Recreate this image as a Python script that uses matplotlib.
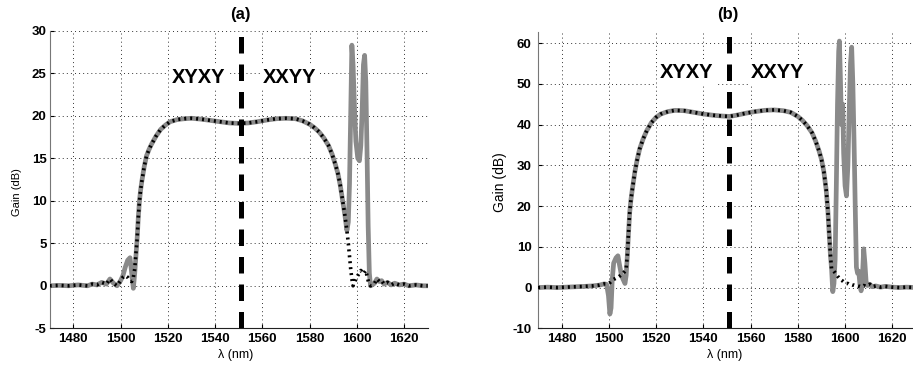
import matplotlib
matplotlib.use("Agg")
import matplotlib.pyplot as plt

plt.rcParams['font.family'] = ['Liberation Sans', 'DejaVu Sans']
plt.rcParams['axes.unicode_minus'] = False

# ---------------- data: panel (a) ----------------
lam_a = [1470, 1474, 1478, 1482, 1486, 1488, 1490, 1492, 1494, 1495.5, 1497, 1498.5,
         1500, 1501, 1502, 1503, 1504, 1504.7, 1505.4, 1506, 1506.5, 1507, 1507.5, 1508,
         1508.5, 1509, 1510, 1511, 1512, 1513, 1515, 1517, 1519, 1521, 1524, 1527, 1530,
         1534, 1538, 1542, 1546, 1550, 1554, 1558, 1562, 1566, 1570, 1574, 1577, 1580,
         1582, 1584, 1586, 1588, 1589.5, 1591, 1592, 1593, 1594, 1595, 1595.8, 1596.4,
         1596.9, 1597.4, 1597.9, 1598.4, 1599, 1599.6, 1600.4, 1601.1, 1601.7, 1602.3,
         1602.8, 1603.3, 1603.8, 1604.3, 1604.8, 1605.3, 1605.8, 1606.5, 1607.5, 1608.5,
         1609.5, 1610.5, 1611.5, 1613, 1614.5, 1616, 1618, 1620, 1622, 1625, 1628, 1630]
gain_a_gray = [0.0, 0.05, 0.0, 0.1, 0.0, 0.2, 0.1, 0.4, 0.2, 0.8, 0.3, 0.0,
               0.6, 1.2, 2.2, 3.0, 3.3, 1.5, -0.3, 1.5, 3.5, 5.5, 8.0, 10.0,
               11.3, 12.3, 14.0, 15.3, 16.0, 16.6, 17.6, 18.4, 18.9, 19.3, 19.55, 19.65, 19.7,
               19.6, 19.45, 19.3, 19.15, 19.1, 19.15, 19.3, 19.5, 19.65, 19.7, 19.65, 19.4, 19.0,
               18.6, 18.1, 17.4, 16.5, 15.5, 14.2, 13.2, 11.8, 10.0, 8.2, 6.5, 7.5,
               12.0, 20.0, 28.3, 26.0, 21.0, 17.0, 15.0, 14.7, 16.5, 21.0,
               26.0, 27.1, 24.0, 16.0, 7.0, 1.5, 0.0, 0.1, 0.3, 0.8,
               0.5, 0.6, 0.2, 0.4, 0.1, 0.3, 0.1, 0.2, 0.0, 0.1, 0.0, 0.0]
gain_a_black = [0.0, 0.05, 0.0, 0.1, 0.0, 0.2, 0.1, 0.4, 0.2, 0.8, 0.3, 0.0,
                0.6, 1.0, 1.2, 1.0, 0.6, 0.5, 1.0, 2.0, 3.8, 5.5, 8.0, 10.0,
                11.3, 12.3, 14.0, 15.3, 16.0, 16.6, 17.6, 18.4, 18.9, 19.3, 19.55, 19.65, 19.7,
                19.6, 19.45, 19.3, 19.15, 19.1, 19.15, 19.3, 19.5, 19.65, 19.7, 19.65, 19.4, 19.0,
                18.6, 18.1, 17.4, 16.5, 15.5, 14.2, 13.2, 11.8, 10.0, 8.2, 6.5, 5.0,
                3.5, 2.0, 0.8, 0.0, 0.3, 0.8, 1.2, 1.5, 1.8, 1.6,
                1.4, 1.6, 1.8, 1.2, 0.6, 0.2, 0.0, 0.1, 0.3, 0.8,
                0.5, 0.6, 0.2, 0.4, 0.1, 0.3, 0.1, 0.2, 0.0, 0.1, 0.0, 0.0]

# ---------------- data: panel (b) ----------------
lam_b = [1470, 1474, 1478, 1482, 1486, 1490, 1493, 1496, 1498, 1499, 1499.8, 1500.4,
         1500.9, 1501.4, 1502, 1503, 1503.8, 1504.5, 1505.3, 1506, 1506.8, 1507.3, 1507.8,
         1508.3, 1508.8, 1509.3, 1510, 1511, 1512, 1513, 1514.5, 1516, 1518, 1520, 1522,
         1525, 1528, 1532, 1536, 1540, 1544, 1548, 1551, 1554, 1558, 1562, 1566, 1570,
         1574, 1577, 1580, 1582, 1584, 1586, 1587.5, 1589, 1590, 1591, 1592, 1592.7,
         1593.3, 1593.8, 1594.3, 1594.8, 1595.3, 1595.8, 1596.3, 1596.8, 1597.3, 1597.6,
         1598, 1598.5, 1599, 1599.4, 1600, 1600.6, 1601.2, 1601.7, 1602.3, 1602.8, 1603.3,
         1603.8, 1604.3, 1604.8, 1605.3, 1605.8, 1606.3, 1606.8, 1607.3, 1607.9, 1608.4,
         1608.9, 1609.5, 1610.5, 1611.5, 1613, 1615, 1617, 1620, 1623, 1626, 1630]
gain_b_gray = [0.0, 0.1, 0.0, 0.1, 0.2, 0.3, 0.4, 0.6, 0.9, 0.8, -2.0, -6.5,
               -5.0, 2.0, 6.0, 7.3, 7.8, 5.5, 3.0, 2.0, 1.0, 3.0, 8.0,
               13.5, 18.5, 21.5, 24.5, 28.5, 31.5, 34.0, 36.5, 38.5, 40.5, 41.8, 42.6,
               43.2, 43.5, 43.4, 43.0, 42.6, 42.3, 42.1, 42.0, 42.3, 42.8, 43.2, 43.5, 43.6,
               43.4, 43.0, 42.0, 41.0, 39.7, 38.0, 36.0, 33.5, 31.5, 28.5, 24.0, 19.0,
               13.0, 8.0, 4.5, -1.0, 1.0, 7.0, 25.0, 45.0, 58.0, 60.5,
               52.0, 40.0, 45.0, 33.0, 25.0, 22.5, 30.0, 42.0, 55.0, 59.0, 50.0,
               36.0, 20.0, 5.0, 3.5, 4.0, 0.8, -0.8, 2.0, 9.5, 6.0,
               1.5, 0.5, 0.8, 0.2, 0.4, 0.1, 0.3, 0.1, 0.0, 0.1, 0.0]
gain_b_black = [0.0, 0.1, 0.0, 0.1, 0.2, 0.3, 0.4, 0.6, 0.9, 0.9, 1.0, 1.2,
                1.5, 1.8, 2.0, 2.3, 2.5, 2.8, 3.2, 3.5, 4.0, 4.8, 8.0,
                13.5, 18.5, 21.5, 24.5, 28.5, 31.5, 34.0, 36.5, 38.5, 40.5, 41.8, 42.6,
                43.2, 43.5, 43.4, 43.0, 42.6, 42.3, 42.1, 42.0, 42.3, 42.8, 43.2, 43.5, 43.6,
                43.4, 43.0, 42.0, 41.0, 39.7, 38.0, 36.0, 33.5, 31.5, 28.5, 24.0, 19.0,
                13.0, 8.0, 4.5, 4.2, 4.0, 3.6, 3.2, 2.8, 2.5, 2.3,
                2.0, 1.8, 1.6, 1.4, 1.2, 1.0, 1.0, 0.8, 0.8, 0.7, 0.6,
                0.6, 0.5, 0.5, 0.4, 0.3, 0.3, 0.2, 0.3, 0.5, 0.4,
                0.3, 0.5, 0.8, 0.2, 0.4, 0.1, 0.3, 0.1, 0.0, 0.1, 0.0]

xticks = [1480, 1500, 1520, 1540, 1560, 1580, 1600, 1620]
yticks_a = [-5, 0, 5, 10, 15, 20, 25, 30]
yticks_b = [-10, 0, 10, 20, 30, 40, 50, 60]
split_lambda = 1551
region_labels = ["XYXY", "XXYY"]
region_x = [1533, 1571.5]
titles = ["(a)", "(b)"]

W, H = 913, 368
fig = plt.figure(figsize=(W / 100, H / 100), dpi=100)

def px_axes(x0, x1, ytop, ybot):
    return [x0 / W, 1 - ybot / H, (x1 - x0) / W, (ybot - ytop) / H]

ax_a = fig.add_axes(px_axes(49.7, 427.7, 30.7, 328.3))
ax_b = fig.add_axes(px_axes(538.1, 915.9, 31.7, 328.3))

panels = [
    (ax_a, lam_a, gain_a_gray, gain_a_black, yticks_a, (-5, 30), 24.5, 2.2),
    (ax_b, lam_b, gain_b_gray, gain_b_black, yticks_b, (-10, 62.8), 52.8, 4.6),
]

for ax, lam, gg, gb, yt, ylim, ytext, ypad in panels:
    ax.set_xlim(1470, 1630)
    ax.set_ylim(*ylim)
    ax.set_xticks(xticks)
    ax.set_yticks(yt)
    ax.set_axisbelow(True)
    ax.grid(True, color='#333333', linewidth=0.7, linestyle=(0, (1, 3.2)))
    for s in ['top', 'right']:
        ax.spines[s].set_visible(False)
    ax.spines['left'].set_color('#777777')
    ax.spines['bottom'].set_color('#222222')
    ax.tick_params(direction='in', length=3, width=0.8, labelsize=9.5, colors='black')
    ax.tick_params(axis='x', pad=3.5)
    ax.tick_params(axis='y', pad=ypad)
    for lab in ax.get_xticklabels() + ax.get_yticklabels():
        lab.set_fontweight('bold')
    ax.plot(lam, gg, color='#8a8a8a', linewidth=3.4, solid_joinstyle='round', zorder=4)
    ax.plot(lam, gb, color='black', linewidth=2.6, linestyle=(0, (0.55, 1.1)),
            dash_capstyle='butt', zorder=5)
    ax.axvline(split_lambda, color='black', linewidth=3.6, linestyle=(0, (3.3, 2.2)), zorder=6)
    for lbl, xl in zip(region_labels, region_x):
        ax.text(xl, ytext, lbl, ha='center', va='center', fontsize=14.5, fontweight='bold',
                bbox=dict(boxstyle='square,pad=0.15', fc='white', ec='none'), zorder=3)

fig.text(240 / W, 1 - 15 / H, titles[0], ha='center', va='center', fontsize=12, fontweight='bold')
fig.text(728 / W, 1 - 15 / H, titles[1], ha='center', va='center', fontsize=12, fontweight='bold')
fig.text(17 / W, 1 - 192 / H, "Gain (dB)", rotation=90, ha='center', va='center', fontsize=8)
fig.text(500 / W, 1 - 182 / H, "Gain (dB)", rotation=90, ha='center', va='center', fontsize=10)
fig.text(236 / W, 1 - 355 / H, "λ (nm)", ha='center', va='center', fontsize=9)
fig.text(725 / W, 1 - 355 / H, "λ (nm)", ha='center', va='center', fontsize=9)

fig.savefig("out.png", dpi=100)
